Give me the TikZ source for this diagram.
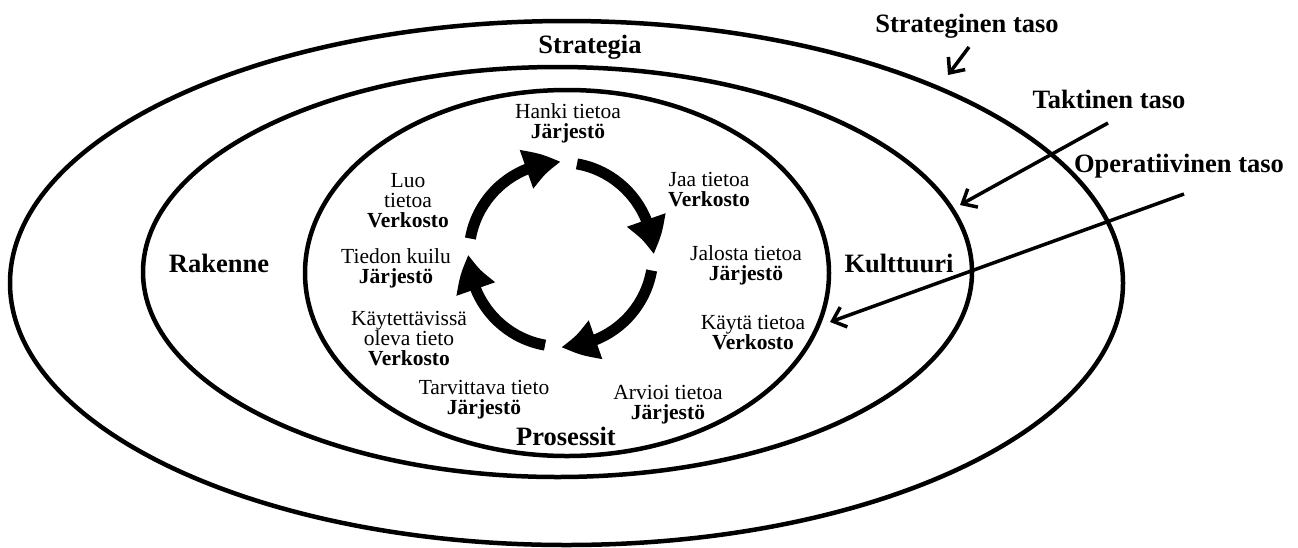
\documentclass[tikz,border=0pt]{standalone}
\usepackage{fontspec}
\setmainfont{Liberation Serif}
\usetikzlibrary{shapes.geometric,arrows.meta,bending,calc}

\begin{document}
\begin{tikzpicture}[x=1pt, y=1pt,
    ring/.style={ellipse, draw, line width=4.5pt, inner sep=0pt},
    phase/.style={align=center, inner sep=0pt, anchor=north, font=\fontsize{21.5}{20}\selectfont},
    area/.style={inner sep=0pt, anchor=base, font=\fontsize{26.5}{30}\selectfont\bfseries},
    cyclearrow/.style={line width=11pt, -{Triangle[length=36pt, width=38pt, bend]}},
    pointer/.style={line width=3.5pt, -{Straight Barb[length=12pt, width=21pt]}}
]
\useasboundingbox (0,0) rectangle (1298,-547);

% Rings
\node (outer) [ring, minimum width=1113pt, minimum height=524pt] at (566.5,-283) {};
\node (middle) [ring, minimum width=829pt, minimum height=410pt] at (557.5,-272) {};
\node (inner) [ring, minimum width=524pt, minimum height=366pt] at (567,-273) {};

% Ring labels
\node (strategia) [area] at (590,-53) {Strategia};
\node (rakenne) [area] at (219,-272) {Rakenne};
\node (kulttuuri) [area] at (899,-272) {Kulttuuri};
\node (prosessit) [area] at (566,-445) {Prosessit};

% Phases of the cycle
\node (hanki) [phase] at (568,-103) {Hanki tietoa\\\textbf{Järjestö}};
\node (jaa) [phase] at (709,-172) {Jaa tietoa\\\textbf{Verkosto}};
\node (jalosta) [phase] at (746,-245) {Jalosta tietoa\\\textbf{Järjestö}};
\node (kayta) [phase] at (753,-315) {Käytä tietoa\\\textbf{Verkosto}};
\node (arvioi) [phase] at (668,-385) {Arvioi tietoa\\\textbf{Järjestö}};
\node (tarvittava) [phase] at (484,-380) {Tarvittava tieto\\\textbf{Järjestö}};
\node (kaytettavissa) [phase] at (409,-311) {Käytettävissä\\oleva tieto\\\textbf{Verkosto}};
\node (kuilu) [phase] at (396,-248) {Tiedon kuilu\\\textbf{Järjestö}};
\node (luo) [phase] at (408,-173) {Luo\\tietoa\\\textbf{Verkosto}};

% Knowledge cycle
\coordinate (hub) at (561,-254.5);
\draw[cyclearrow] ($(hub)+(170:92)$) arc[start angle=170, end angle=90, radius=92];
\draw[cyclearrow] ($(hub)+(80:92)$) arc[start angle=80, end angle=0, radius=92];
\draw[cyclearrow] ($(hub)+(-10:92)$) arc[start angle=-10, end angle=-90, radius=92];
\draw[cyclearrow] ($(hub)+(-100:92)$) arc[start angle=-100, end angle=-180, radius=92];

% Levels
\node (strateginen) [area] at (967,-32) {Strateginen taso};
\node (taktinen) [area] at (1109,-108) {Taktinen taso};
\node (operatiivinen) [area] at (1179,-172) {Operatiivinen taso};

\coordinate (strateginen-from) at (969,-47);
\coordinate (strateginen-to) at (948,-75);
\coordinate (taktinen-from) at (1108,-123);
\coordinate (taktinen-to) at (960,-205);
\coordinate (operatiivinen-from) at (1184,-194);
\coordinate (operatiivinen-to) at (830,-322);

\draw[pointer] (strateginen-from) -- (strateginen-to);
\draw[pointer] (taktinen-from) -- (taktinen-to);
\draw[pointer] (operatiivinen-from) -- (operatiivinen-to);

\end{tikzpicture}
\end{document}
